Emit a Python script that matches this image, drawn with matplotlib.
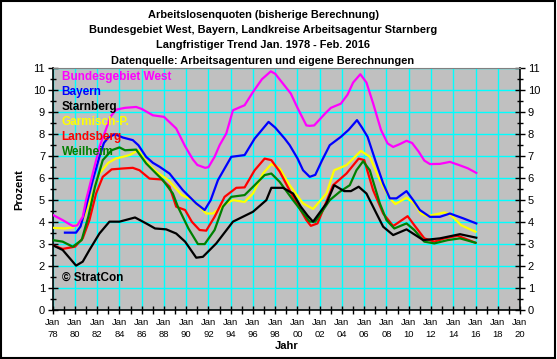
import numpy as np
import matplotlib
matplotlib.use("Agg")
import matplotlib.pyplot as plt
from matplotlib.ticker import MultipleLocator, FixedLocator
from matplotlib.patches import Rectangle

plt.rcParams['font.family'] = ['Liberation Sans', 'DejaVu Sans']

# Bundesgebiet West
x_west = [1978.0, 1978.9, 1979.8, 1980.2, 1980.7, 1981.0, 1981.6, 1982.2, 1982.7, 1983.2, 1983.7,
          1984.5, 1985.5, 1986.0, 1987.0, 1988.0, 1989.1, 1989.9, 1990.6, 1991.0, 1991.7, 1992.0,
          1992.55, 1993.0, 1993.6, 1994.2, 1995.25, 1996.0, 1996.8, 1997.6, 1998.0, 1998.7, 1999.4,
          2000.0, 2000.8, 2001.1, 2001.5, 2002.5, 2003.0, 2003.9, 2004.5, 2005.0, 2005.65, 2006.2,
          2006.8, 2007.5, 2008.1, 2008.6, 2009.2, 2009.8, 2010.3, 2010.9, 2011.4, 2011.9, 2012.8,
          2013.7, 2014.5, 2015.3, 2016.07]
y_west = [4.33, 4.09, 3.82, 3.85, 4.24, 5.0, 6.21, 7.42, 8.1, 8.8, 9.12,
          9.2, 9.24, 9.15, 8.86, 8.79, 8.26, 7.45, 6.85, 6.6, 6.47, 6.5,
          6.97, 7.5, 8.03, 9.09, 9.32, 9.92, 10.5, 10.86, 10.75, 10.3, 9.85,
          9.2, 8.4, 8.38, 8.4, 8.95, 9.2, 9.39, 9.8, 10.35, 10.73, 10.35,
          9.4, 8.2, 7.58, 7.42, 7.55, 7.7, 7.6, 7.2, 6.8, 6.64, 6.65,
          6.74, 6.6, 6.45, 6.24]

# Bayern
x_bay = [1979.1, 1980.1, 1980.5, 1981.0, 1981.6, 1982.2, 1982.6, 1983.0, 1983.6, 1984.3, 1985.2,
         1985.7, 1986.4, 1987.0, 1987.6, 1988.5, 1989.7, 1990.9, 1991.66, 1992.2, 1992.85, 1994.05,
         1995.25, 1996.15, 1997.4, 1998.0, 1998.85, 1999.3, 2000.0, 2000.5, 2001.1, 2001.6, 2002.2,
         2002.9, 2003.9, 2004.6, 2005.35, 2005.8, 2006.3, 2007.0, 2007.7, 2008.3, 2008.9, 2009.8,
         2010.4, 2011.0, 2011.9, 2012.8, 2013.7, 2014.9, 2016.07]
y_bay = [3.52, 3.52, 3.8, 4.7, 5.9, 6.97, 7.6, 7.85, 8.0, 7.85, 7.73,
         7.5, 6.97, 6.7, 6.52, 6.21, 5.45, 4.85, 4.55, 5.0, 5.91, 6.97,
         7.05, 7.8, 8.56, 8.3, 7.8, 7.5, 6.9, 6.36, 6.06, 6.15, 6.8,
         7.5, 7.88, 8.2, 8.64, 8.3, 7.88, 6.8, 5.76, 5.08, 5.08, 5.41,
         5.0, 4.55, 4.24, 4.24, 4.39, 4.17, 3.94]

# Starnberg
x_sta = [1978.0, 1978.9, 1980.1, 1980.7, 1981.3, 1982.2, 1983.1, 1984.0, 1985.4, 1986.4, 1987.2,
         1988.2, 1989.1, 1989.9, 1990.9, 1991.5, 1992.7, 1994.2, 1996.0, 1997.2, 1997.65, 1998.7,
         1999.6, 2000.3, 2000.9, 2001.4, 2002.6, 2003.3, 2004.2, 2004.8, 2005.5, 2006.2, 2007.1,
         2007.7, 2008.6, 2009.8, 2011.3, 2012.8, 2014.6, 2016.07]
y_sta = [2.95, 2.73, 2.02, 2.2, 2.73, 3.48, 4.02, 4.02, 4.21, 3.94, 3.71,
         3.67, 3.48, 3.11, 2.38, 2.42, 3.03, 4.02, 4.47, 5.0, 5.56, 5.56,
         5.3, 4.7, 4.3, 4.02, 4.85, 5.68, 5.41, 5.41, 5.61, 5.3, 4.39,
         3.79, 3.41, 3.67, 3.18, 3.26, 3.45, 3.29]

# Garmisch-P.
x_gap = [1978.0, 1979.1, 1979.8, 1980.7, 1981.5, 1982.2, 1983.0, 1983.7, 1984.3, 1984.9, 1985.7,
         1986.4, 1987.3, 1988.4, 1989.6, 1990.6, 1991.8, 1992.4, 1993.6, 1994.2, 1995.25, 1996.0,
         1996.9, 1997.65, 1998.4, 1999.3, 2000.5, 2001.4, 2002.6, 2003.3, 2004.4, 2005.0, 2005.7,
         2006.5, 2007.4, 2008.3, 2008.8, 2009.8, 2010.5, 2011.1, 2011.7, 2013.2, 2013.8, 2014.7,
         2016.0]
y_gap = [3.74, 3.71, 3.76, 4.09, 5.15, 6.21, 6.7, 6.9, 6.97, 7.05, 7.27,
         6.74, 6.29, 5.91, 5.23, 5.0, 4.39, 4.39, 4.85, 5.0, 4.92, 5.3,
         6.21, 6.64, 6.44, 5.68, 4.85, 4.6, 5.3, 6.36, 6.59, 6.89, 7.24,
         6.97, 5.91, 5.08, 4.82, 5.11, 4.85, 4.39, 4.27, 4.44, 4.32, 3.86,
         3.56]

# Landsberg
x_lan = [1978.0, 1978.9, 1980.0, 1980.7, 1981.3, 1981.9, 1982.5, 1983.3, 1984.3, 1985.2, 1985.8,
         1986.7, 1987.8, 1988.5, 1989.1, 1989.9, 1990.5, 1991.2, 1991.8, 1992.55, 1993.45, 1994.5,
         1995.25, 1996.15, 1997.05, 1997.65, 1998.4, 1999.6, 2000.8, 2001.2, 2001.8, 2003.2, 2004.4,
         2005.5, 2006.0, 2006.8, 2007.7, 2008.6, 2009.9, 2010.5, 2011.4, 2012.3, 2013.2, 2014.4,
         2016.0]
y_lan = [2.95, 2.78, 2.88, 3.26, 4.09, 5.3, 6.06, 6.4, 6.44, 6.47, 6.36,
         5.98, 5.94, 5.61, 4.7, 4.55, 4.02, 3.64, 3.61, 4.24, 5.15, 5.56,
         5.58, 6.36, 6.89, 6.82, 6.3, 5.15, 4.09, 3.83, 3.94, 5.68, 6.21,
         6.89, 6.82, 5.45, 4.39, 3.82, 4.27, 3.86, 3.26, 3.11, 3.26, 3.38,
         3.06]

# Weilheim
x_wei = [1978.0, 1978.9, 1979.8, 1980.6, 1981.2, 1981.8, 1982.5, 1983.3, 1984.0, 1984.5, 1985.5,
         1986.4, 1987.3, 1987.9, 1988.8, 1989.25, 1990.2, 1991.05, 1991.66, 1992.55, 1993.3, 1994.05,
         1995.25, 1996.15, 1997.05, 1997.65, 1998.4, 1999.6, 2001.1, 2001.6, 2002.9, 2003.8, 2004.7,
         2005.3, 2005.9, 2006.5, 2007.4, 2008.0, 2008.7, 2009.8, 2010.5, 2011.4, 2012.3, 2013.5,
         2014.6, 2016.0]
y_wei = [3.18, 3.11, 2.88, 3.18, 4.24, 5.61, 6.82, 7.27, 7.4, 7.27, 7.3,
         6.67, 6.21, 5.91, 5.3, 4.7, 3.71, 3.0, 3.0, 3.64, 4.7, 5.15,
         5.23, 5.68, 6.14, 6.21, 5.83, 5.0, 4.02, 4.02, 5.0, 5.38, 5.68,
         6.36, 6.77, 6.36, 4.85, 4.09, 3.71, 3.94, 3.64, 3.11, 3.03, 3.18,
         3.26, 3.06]

series = [
    ("Bundesgebiet West", x_west, y_west, "#FF00FF"),
    ("Bayern", x_bay, y_bay, "#0000FF"),
    ("Starnberg", x_sta, y_sta, "#000000"),
    ("Garmisch-P.", x_gap, y_gap, "#FFFF00"),
    ("Landsberg", x_lan, y_lan, "#FF0000"),
    ("Weilheim", x_wei, y_wei, "#008000"),
]

title_lines = ["Arbeitslosenquoten (bisherige Berechnung)",
               "Bundesgebiet West, Bayern, Landkreise Arbeitsagentur Starnberg",
               "Langfristiger Trend Jan. 1978 - Feb. 2016",
               "Datenquelle: Arbeitsagenturen und eigene Berechnungen"]

year_ticks = list(range(1978, 2021, 2))
year_labels = ["Jan\n%02d" % (y % 100) for y in year_ticks]

fig = plt.figure(figsize=(5.57, 3.59), dpi=100)
fig.patch.set_facecolor("white")
ax = fig.add_axes([0.0946, 0.1365, 0.839, 0.6733])
ax.set_facecolor("#C0C0C0")

# draw order: yellow / red / green under blue & black like the original
for name, xs, ys, col in [series[3], series[4], series[5], series[2], series[1], series[0]]:
    ax.plot(xs, ys, color=col, lw=1.6, solid_joinstyle="round", zorder=3)

ax.set_xlim(1978, 2020)
ax.set_ylim(0, 11)
ax.xaxis.set_major_locator(FixedLocator(year_ticks))
ax.xaxis.set_minor_locator(MultipleLocator(1))
ax.set_xticklabels(year_labels, fontsize=6.8, linespacing=1.45)
ax.yaxis.set_major_locator(MultipleLocator(1))
ax.yaxis.set_minor_locator(MultipleLocator(0.5))
ax.tick_params(axis="y", which="both", direction="inout", left=True, right=True,
               labelleft=True, labelright=True, labelsize=8, pad=2)
ax.tick_params(axis="y", which="major", length=7, width=1)
ax.tick_params(axis="y", which="minor", length=4, width=1)
ax.tick_params(axis="x", which="both", direction="inout", length=6, width=1, pad=3)
ax.grid(True, which="major", color="#00FFFF", lw=1.0, zorder=1)
ax.set_axisbelow(True)
for s in ["left", "bottom", "right"]:
    ax.spines[s].set_color("black")
    ax.spines[s].set_linewidth(1.2)
ax.spines["top"].set_color("#808080")

ax.set_ylabel("Prozent", fontsize=8, fontweight="bold", labelpad=6)
ax.set_xlabel("Jahr", fontsize=8, fontweight="bold", labelpad=1)

for i, (name, xs, ys, col) in enumerate(series):
    ax.text(0.019, 0.966 - i * 0.0625, name, color=col, fontsize=8.5, fontweight="bold",
            transform=ax.transAxes, va="center", ha="left", zorder=5)

ax.text(0.019, 0.132, "\u00a9 StratCon", color="black", fontsize=8.5, fontweight="bold",
        transform=ax.transAxes, va="center", ha="left", zorder=5)

for i, line in enumerate(title_lines):
    fig.text(263 / 557, 1 - (15 + i * 15.2) / 359, line, ha="center", va="center",
             fontsize=7.9, fontweight="bold")

fig.patches.append(Rectangle((0.001, 0.002), 0.996, 0.996, transform=fig.transFigure,
                             fill=False, edgecolor="black", lw=1.5))

fig.savefig("out.png", dpi=100)
